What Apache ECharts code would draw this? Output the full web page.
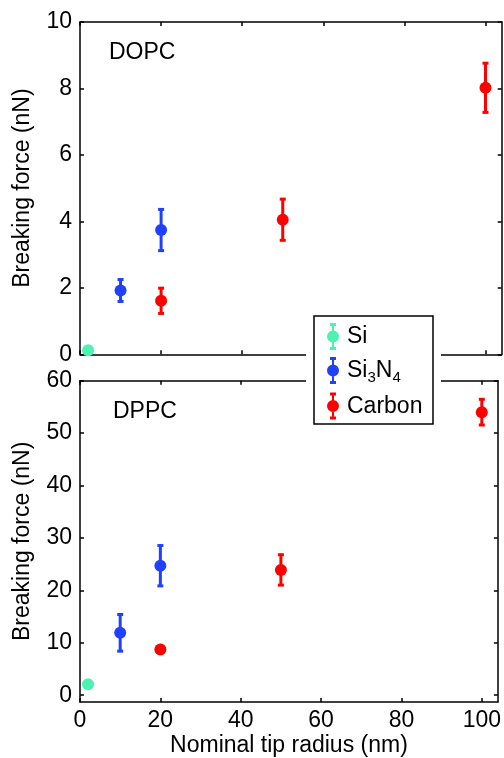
<!DOCTYPE html>
<html>
<head>
<meta charset="utf-8">
<script src="https://cdn.jsdelivr.net/npm/echarts@6/dist/echarts.min.js"></script>
<style>
html,body{margin:0;padding:0;background:#fff;}
#chart{width:504px;height:758px;}
</style>
</head>
<body>
<div id="chart"></div>
<script>
// ---- data ----
const seriesNames = ['Si', 'Si3N4', 'Carbon'];
const xTicks = [0, 20, 40, 60, 80, 100];
const xTickLabels = ['0', '20', '40', '60', '80', '100'];
const yTicksTop = [0, 2, 4, 6, 8, 10];
const yTicksBottom = [0, 10, 20, 30, 40, 50, 60];

const radiusSi = [2];
const radiusSiN = [10, 20];
const radiusC = [20, 50, 100];

const dopcSi = [0.12];
const dopcSiErr = [0];
const dopcSiN = [1.92, 3.74];
const dopcSiNErr = [0.33, 0.62];
const dopcC = [1.61, 4.05, 8.02];
const dopcCErr = [0.38, 0.62, 0.74];

const dppcSi = [2.1];
const dppcSiErr = [0];
const dppcSiN = [11.9, 24.7];
const dppcSiNErr = [3.5, 3.85];
const dppcC = [8.7, 23.9, 54.0];
const dppcCErr = [0, 2.9, 2.45];

// ---- styling ----
const colors = { 'Si': '#4ef2b0', 'Si3N4': '#2040ff', 'Carbon': '#ff0000' };
const FONT = 'Liberation Sans, Arial, sans-serif';
const FS = 23;

function pts(xs, ys, es) { return xs.map((x, i) => [x, ys[i], es[i]]); }

function errRender(color) {
  return function (params, api) {
    const x = api.value(0), y = api.value(1), e = api.value(2);
    if (!e) return null;
    const t = api.coord([x, y + e]), b = api.coord([x, y - e]);
    const hw = 3;
    const st = { stroke: color, lineWidth: 3 };
    return {
      type: 'group',
      children: [
        { type: 'line', shape: { x1: t[0], y1: t[1], x2: b[0], y2: b[1] }, style: st },
        { type: 'line', shape: { x1: t[0] - hw, y1: t[1], x2: t[0] + hw, y2: t[1] }, style: st },
        { type: 'line', shape: { x1: b[0] - hw, y1: b[1], x2: b[0] + hw, y2: b[1] }, style: st }
      ]
    };
  };
}

const series = [];
function addPanel(axisIdx, si, siE, sin, sinE, c, cE) {
  const sets = [
    ['Si', pts(radiusSi, si, siE)],
    ['Si3N4', pts(radiusSiN, sin, sinE)],
    ['Carbon', pts(radiusC, c, cE)]
  ];
  sets.forEach(([name, data]) => {
    series.push({
      name: name, type: 'custom', coordinateSystem: 'cartesian2d',
      xAxisIndex: axisIdx, yAxisIndex: axisIdx, data: data, z: 3,
      itemStyle: { color: colors[name] },
      renderItem: errRender(colors[name]), silent: true
    });
    series.push({
      name: name, type: 'scatter', xAxisIndex: axisIdx, yAxisIndex: axisIdx,
      data: data.map(d => [d[0], d[1]]), symbol: 'circle', symbolSize: 12, z: 4,
      itemStyle: { color: colors[name], opacity: 1 }, silent: true
    });
  });
}
addPanel(0, dopcSi, dopcSiErr, dopcSiN, dopcSiNErr, dopcC, dopcCErr);
addPanel(2, dppcSi, dppcSiErr, dppcSiN, dppcSiNErr, dppcC, dppcCErr);

const axisLine = { show: true, onZero: false, lineStyle: { color: '#000', width: 1.5 } };
const tickIn = { show: true, inside: true, length: 4, lineStyle: { color: '#000', width: 1.5 } };

function xAx(grid, pos, labels) {
  return {
    type: 'value', gridIndex: grid, position: pos, min: 0, max: 104,
    axisLine: axisLine, splitLine: { show: false },
    axisTick: Object.assign({ customValues: xTicks }, tickIn),
    axisLabel: labels ? {
      show: true, customValues: xTicks, margin: 7, color: '#000', fontSize: FS, fontFamily: FONT,
      formatter: v => xTickLabels[xTicks.indexOf(v)]
    } : { show: false },
    name: labels ? 'Nominal tip radius (nm)' : '', nameLocation: 'middle', nameGap: 32,
    nameTextStyle: { color: '#000', fontSize: FS, fontFamily: FONT }
  };
}
function yAx(grid, pos, min, max, ticks, labels) {
  return {
    type: 'value', gridIndex: grid, position: pos, min: min, max: max,
    axisLine: axisLine, splitLine: { show: false },
    axisTick: Object.assign({ customValues: ticks }, tickIn),
    axisLabel: labels ? { show: true, customValues: ticks, margin: 8, color: '#000', fontSize: FS, fontFamily: FONT } : { show: false },
    name: labels ? 'Breaking force (nN)' : '', nameLocation: 'middle', nameGap: 46, nameRotate: 90,
    nameTextStyle: { color: '#000', fontSize: FS, fontFamily: FONT }
  };
}

const iconPath = 'path://M5,0H7V27H5Z M3,0H9V3H3Z M3,24H9V27H3Z M0,13.5A6,6 0 1,1 12,13.5A6,6 0 1,1 0,13.5Z';

const option = {
  backgroundColor: '#fff',
  animation: false,
  grid: [
    { left: 80, top: 22, width: 421.7, height: 332.3 },
    { left: 80, top: 380.7, width: 421.7, height: 322.6 }
  ],
  xAxis: [xAx(0, 'bottom', false), xAx(0, 'top', false), xAx(1, 'bottom', true), xAx(1, 'top', false)],
  yAxis: [
    yAx(0, 'left', 0, 10, yTicksTop, true), yAx(0, 'right', 0, 10, yTicksTop, false),
    yAx(1, 'left', -1.3, 60, yTicksBottom, true), yAx(1, 'right', -1.3, 60, yTicksBottom, false)
  ],
  legend: {
    orient: 'vertical', left: 327, top: 323, padding: 0,
    itemWidth: 12, itemHeight: 27, itemGap: 7, selectedMode: false, z: 20,
    data: seriesNames.map(n => ({ name: n, icon: iconPath, itemStyle: { color: colors[n] } })),
    formatter: n => n === 'Si3N4' ? '{a|Si}{s|3}{a|N}{s|4}' : '{a|' + n + '}',
    textStyle: {
      color: '#000', fontSize: FS, fontFamily: FONT, padding: [4, 0, 0, 3],
      rich: {
        a: { fontSize: FS, fontFamily: FONT, color: '#000', verticalAlign: 'bottom', padding: [0, 0, 3, 0] },
        s: { fontSize: 15, fontFamily: FONT, color: '#000', verticalAlign: 'bottom', padding: [11, 0, 0, 0] }
      }
    }
  },
  graphic: [
    { type: 'rect', z: 10, shape: { x: 306, y: 308, width: 135, height: 124 }, style: { fill: '#fff' } },
    { type: 'rect', z: 11, shape: { x: 314, y: 316, width: 119, height: 108 }, style: { fill: '#fff', stroke: '#000', lineWidth: 1.5 } },
    { type: 'text', z: 11, left: 109, top: 41, style: { text: 'DOPC', fill: '#000', fontSize: FS, fontFamily: FONT } },
    { type: 'text', z: 11, left: 113, top: 400, style: { text: 'DPPC', fill: '#000', fontSize: FS, fontFamily: FONT } }
  ],
  series: series
};

const chart = echarts.init(document.getElementById('chart'), null, { renderer: 'canvas' });
chart.setOption(option);
</script>
</body>
</html>
